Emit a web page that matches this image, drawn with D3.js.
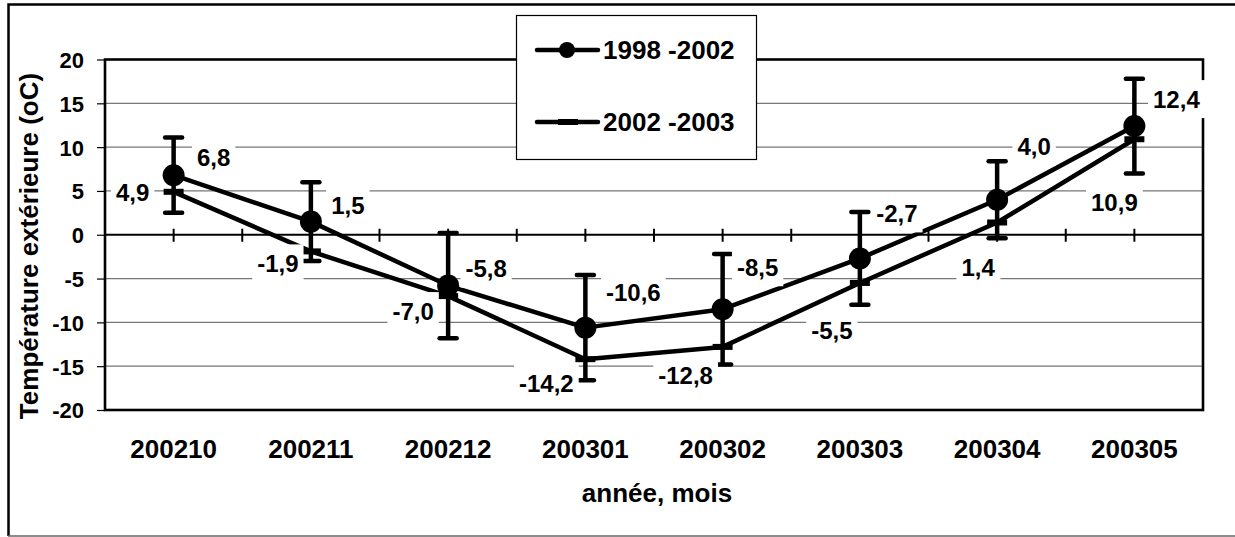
<!DOCTYPE html>
<html>
<head>
<meta charset="utf-8">
<script src="https://cdn.jsdelivr.net/npm/d3@7"></script>
<style>
  html, body { margin: 0; padding: 0; background: #fff; }
  svg { display: block; }
  text { font-family: "Liberation Sans", Arial, sans-serif; font-weight: bold; fill: #000; }
</style>
</head>
<body>
<svg id="chart" width="1235" height="537"></svg>
<script>
// ---- data ----
const categories = ["200210", "200211", "200212", "200301", "200302", "200303", "200304", "200305"];
const seriesNames = ["1998 -2002", "2002 -2003"];
const series1998 = [6.8, 1.5, -5.8, -10.6, -8.5, -2.7, 4.0, 12.4];
const series2002 = [4.9, -1.9, -7.0, -14.2, -12.8, -5.5, 1.4, 10.9];
const errors1998 = [4.3, 4.5, 6.0, 6.0, 6.3, 5.3, 4.4, 5.4];
const yTicks = [-20, -15, -10, -5, 0, 5, 10, 15, 20];
const yTitle = "Température extérieure (oC)";
const xTitle = "année, mois";

// ---- layout (label nudges in px, relative to the point) ----
const labelNudge1998 = [[40, -18], [37, -16], [38, -17], [48, -35], [35, -42], [37, -45], [37, -53], [42, -27]];
const labelNudge2002 = [[-41, 1], [-33, 12], [-35, 15], [-39, 24], [-37, 28], [-28, 47], [-19, 45], [-20, 63]];

const W = 1235, H = 537;
const plot = { left: 105, right: 1203, top: 59.5, bottom: 410 };

const svg = d3.select("#chart");
const loc = d3.formatLocale({ decimal: ",", thousands: " ", grouping: [3], currency: ["", ""], minus: "-" });
const fmt1 = loc.format(".1f");
const fmt0 = loc.format("d");

const x = d3.scaleBand().domain(categories).range([plot.left, plot.right]).padding(0);
const xc = c => x(c) + x.bandwidth() / 2;
const y = d3.scaleLinear().domain([-20, 20]).range([plot.bottom, plot.top]);

// outer frame
svg.append("rect").attr("x", 0).attr("y", 0).attr("width", W).attr("height", H).attr("fill", "#fff");
svg.append("path").attr("d", `M8.5,536 L8.5,4.5 L${W + 5},4.5`).attr("fill", "none").attr("stroke", "#000").attr("stroke-width", 2.5);
svg.append("line").attr("x1", 8).attr("x2", W).attr("y1", 536).attr("y2", 536).attr("stroke", "#666").attr("stroke-width", 1.5);

// gridlines
svg.append("g").selectAll("line").data(yTicks.filter(t => t !== 0 && t !== 20 && t !== -20)).join("line")
  .attr("x1", plot.left).attr("x2", plot.right)
  .attr("y1", d => y(d)).attr("y2", d => y(d))
  .attr("stroke", "#777").attr("stroke-width", 1.2);

// plot border
svg.append("rect").attr("x", plot.left).attr("y", plot.top)
  .attr("width", plot.right - plot.left).attr("height", plot.bottom - plot.top)
  .attr("fill", "none").attr("stroke", "#000").attr("stroke-width", 2.6);

// y axis
const yAxis = d3.axisLeft(y).tickValues(yTicks).tickSize(8).tickPadding(13).tickFormat(fmt0);
const gy = svg.append("g").attr("transform", `translate(${plot.left},0)`).call(yAxis);
gy.select(".domain").remove();
gy.selectAll(".tick line").attr("stroke", "#000").attr("stroke-width", 1.2);
gy.selectAll(".tick text").style("font-size", "22px").style("font-family", "'Liberation Sans', Arial, sans-serif").style("font-weight", "bold").attr("fill", "#000").attr("dy", "0.36em");

// zero axis line with crossing ticks at half-category intervals
svg.append("line").attr("x1", plot.left).attr("x2", plot.right).attr("y1", y(0)).attr("y2", y(0))
  .attr("stroke", "#000").attr("stroke-width", 2.2);
const tickXs = [];
categories.forEach(c => { tickXs.push(x(c)); tickXs.push(xc(c)); });
svg.append("g").selectAll("line").data(tickXs.filter(v => v > plot.left + 1)).join("line")
  .attr("x1", d => d).attr("x2", d => d).attr("y1", y(0) - 6).attr("y2", y(0) + 7)
  .attr("stroke", "#000").attr("stroke-width", 2);

// x category labels
const xAxis = d3.axisBottom(x).tickSize(0).tickPadding(0);
const gx = svg.append("g").attr("transform", `translate(0,${plot.bottom})`).call(xAxis);
gx.select(".domain").remove();
gx.selectAll(".tick text").style("font-size", "26px").style("font-family", "'Liberation Sans', Arial, sans-serif").style("font-weight", "bold").attr("fill", "#000").attr("y", 48).attr("dy", 0);

// axis titles
svg.append("text").attr("x", 657).attr("y", 502).attr("text-anchor", "middle").style("font-size", "26px").text(xTitle);
svg.append("text").attr("transform", "translate(38,246) rotate(-90)").attr("text-anchor", "middle").style("font-size", "26px").text(yTitle);

// lines
const line = d3.line().x((d, i) => xc(categories[i])).y(d => y(d));
svg.append("path").datum(series2002).attr("d", line).attr("fill", "none").attr("stroke", "#000").attr("stroke-width", 4.5).attr("stroke-linejoin", "round");
svg.append("path").datum(series1998).attr("d", line).attr("fill", "none").attr("stroke", "#000").attr("stroke-width", 4.5).attr("stroke-linejoin", "round");

// error bars on 1998-2002
const eb = svg.append("g");
series1998.forEach((v, i) => {
  const cx = xc(categories[i]);
  const lo = y(v - errors1998[i]), hi = y(v + errors1998[i]);
  eb.append("line").attr("x1", cx).attr("x2", cx).attr("y1", lo).attr("y2", hi).attr("stroke", "#000").attr("stroke-width", 4.5);
  [lo, hi].forEach(yy => eb.append("line").attr("x1", cx - 8.5).attr("x2", cx + 8.5).attr("y1", yy).attr("y2", yy)
    .attr("stroke", "#000").attr("stroke-width", 4.5).attr("stroke-linecap", "round"));
});

// markers
svg.append("g").selectAll("rect").data(series2002).join("rect")
  .attr("x", (d, i) => xc(categories[i]) - 10).attr("y", d => y(d) - 3)
  .attr("width", 20).attr("height", 6).attr("fill", "#000");
svg.append("g").selectAll("circle").data(series1998).join("circle")
  .attr("cx", (d, i) => xc(categories[i])).attr("cy", d => y(d)).attr("r", 11).attr("fill", "#000");

// data labels with white boxes
function drawLabels(values, nudges) {
  const g = svg.append("g");
  values.forEach((v, i) => {
    const cx = xc(categories[i]) + nudges[i][0];
    const cy = y(v) + nudges[i][1];
    const t = g.append("text").attr("x", cx).attr("y", cy).attr("dy", "0.36em").attr("text-anchor", "middle")
      .style("font-size", "24px").text(fmt1(v));
    const bb = t.node().getBBox();
    g.insert("rect", () => t.node()).attr("x", bb.x - 5).attr("y", cy - 19).attr("width", bb.width + 10).attr("height", 38).attr("fill", "#fff");
  });
}
drawLabels(series1998, labelNudge1998);
drawLabels(series2002, labelNudge2002);

// legend
const lg = svg.append("g");
lg.append("rect").attr("x", 516.5).attr("y", 15.5).attr("width", 240).attr("height", 144).attr("fill", "#fff").attr("stroke", "#000").attr("stroke-width", 1.2);
const legY = [50, 122];
seriesNames.forEach((name, i) => {
  lg.append("line").attr("x1", 537).attr("x2", 598).attr("y1", legY[i]).attr("y2", legY[i]).attr("stroke", "#000").attr("stroke-width", 4.5).attr("stroke-linecap", "round");
  if (i === 0) lg.append("circle").attr("cx", 567).attr("cy", legY[i]).attr("r", 8).attr("fill", "#000");
  else lg.append("rect").attr("x", 558).attr("y", legY[i] - 3).attr("width", 20).attr("height", 6).attr("fill", "#000");
  lg.append("text").attr("x", 603).attr("y", legY[i]).attr("dy", "0.36em").style("font-size", "26px").text(name);
});
</script>
</body>
</html>
